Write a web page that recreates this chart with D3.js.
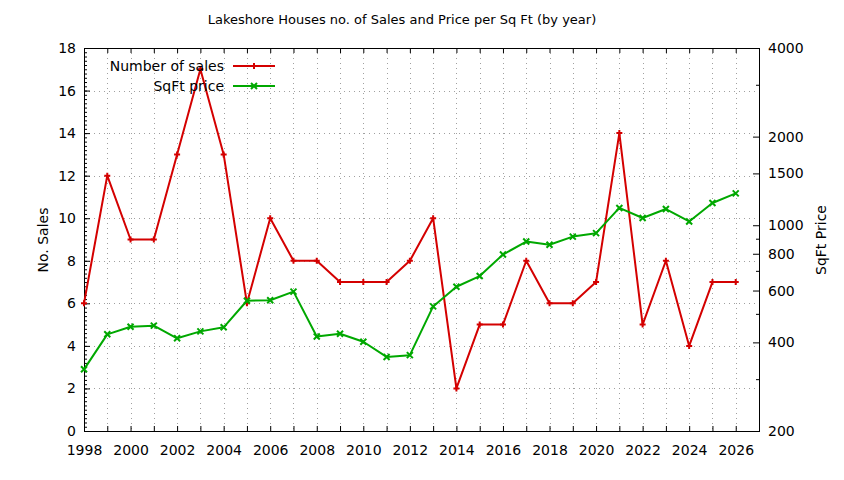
<!DOCTYPE html>
<html>
<head>
<meta charset="utf-8">
<script src="https://cdn.jsdelivr.net/npm/d3@7"></script>
<style>
  body { margin: 0; background: #fff; }
  svg text { font-family: "DejaVu Sans", sans-serif; fill: #000; }
</style>
</head>
<body>
<div class="chart"></div>
<script>
var years = d3.range(1998, 2027);
var sales = [6, 12, 9, 9, 13, 17, 13, 6, 10, 8, 8, 7, 7, 7, 8, 10, 2, 5, 5, 8, 6, 6, 7, 14, 5, 8, 4, 7, 7];
var sqftPrice = [324, 426, 452, 456, 413, 436, 450, 554, 556, 595, 419, 428, 402, 357, 362, 530, 618, 672, 795, 880, 858, 915, 940, 1145, 1058, 1135, 1030, 1190, 1283];
var leftTicks = [0, 2, 4, 6, 8, 10, 12, 14, 16, 18];
var rightTicks = [200, 400, 600, 800, 1000, 1500, 2000, 4000];
var rightMinor = [300, 500, 700, 900, 3000];
var yearLabels = d3.range(1998, 2027, 2);

draw();

function draw() {
    var width = 844, height = 480;
    var m = { left: 84, right: 759, top: 48, bottom: 431 };

    var svg = d3.select('.chart')
        .append('svg')
        .attr('width', width)
        .attr('height', height);

    var x = d3.scaleLinear().domain([1998, 2027]).range([m.left, m.right]);
    var y = d3.scaleLinear().domain([0, 18]).range([m.bottom, m.top]);
    var y2 = d3.scaleLog().domain([200, 4000]).range([m.bottom, m.top]);

    // grid
    var grid = svg.append('g')
        .attr('stroke', '#a0a0a0')
        .attr('stroke-width', 1)
        .attr('stroke-dasharray', '1,4');

    grid.selectAll('.gx')
        .data(years.slice(1))
        .enter()
        .append('line')
        .attr('x1', function (d) { return Math.round(x(d)) + 0.5; })
        .attr('x2', function (d) { return Math.round(x(d)) + 0.5; })
        .attr('y1', m.top)
        .attr('y2', m.bottom);

    grid.selectAll('.gy')
        .data(leftTicks.slice(1, -1))
        .enter()
        .append('line')
        .attr('x1', m.left)
        .attr('x2', m.right)
        .attr('y1', function (d) { return Math.round(y(d)) + 0.5; })
        .attr('y2', function (d) { return Math.round(y(d)) + 0.5; });

    // axes, ticks point inward like gnuplot
    function styleAxis(g) {
        g.select('.domain').remove();
        g.selectAll('line').attr('stroke', '#000');
        g.selectAll('text')
            .style('font-family', '"DejaVu Sans", sans-serif')
            .style('font-size', '14px')
            .attr('fill', '#000');
    }

    svg.append('g')
        .attr('transform', 'translate(0,' + m.bottom + ')')
        .call(d3.axisBottom(x)
            .tickValues(years)
            .tickSizeInner(-5)
            .tickSizeOuter(0)
            .tickPadding(14)
            .tickFormat(function (d) { return yearLabels.indexOf(d) >= 0 ? d : ''; }))
        .call(styleAxis);

    svg.append('g')
        .attr('transform', 'translate(0,' + m.top + ')')
        .call(d3.axisTop(x)
            .tickValues(years)
            .tickSizeInner(-5)
            .tickSizeOuter(0)
            .tickFormat(''))
        .call(styleAxis);

    svg.append('g')
        .attr('transform', 'translate(' + m.left + ',0)')
        .call(d3.axisLeft(y)
            .tickValues(d3.range(0, 90).map(function (i) { return i * 0.2; }))
            .tickSizeInner(-3)
            .tickSizeOuter(0)
            .tickFormat(''))
        .call(styleAxis);

    svg.append('g')
        .attr('transform', 'translate(' + m.left + ',0)')
        .call(d3.axisLeft(y)
            .tickValues(leftTicks)
            .tickSizeInner(-6)
            .tickSizeOuter(0)
            .tickPadding(8))
        .call(styleAxis);

    svg.append('g')
        .attr('transform', 'translate(' + m.right + ',0)')
        .call(d3.axisRight(y2)
            .tickValues(rightMinor)
            .tickSizeInner(-3)
            .tickSizeOuter(0)
            .tickFormat(''))
        .call(styleAxis);

    svg.append('g')
        .attr('transform', 'translate(' + m.right + ',0)')
        .call(d3.axisRight(y2)
            .tickValues(rightTicks)
            .tickSizeInner(-6)
            .tickSizeOuter(0)
            .tickPadding(9)
            .tickFormat(d3.format('d')))
        .call(styleAxis);

    // border
    svg.append('rect')
        .attr('x', m.left + 0.5)
        .attr('y', m.top + 0.5)
        .attr('width', m.right - m.left)
        .attr('height', m.bottom - m.top)
        .attr('fill', 'none')
        .attr('stroke', '#000');

    // series
    var series = [
        { label: 'Number of sales', color: '#d40000', values: sales, scale: y, mark: 'plus' },
        { label: 'SqFt price', color: '#00a800', values: sqftPrice, scale: y2, mark: 'cross' }
    ];

    function markPath(type, cx, cy) {
        var s = 3;
        if (type === 'plus') {
            return 'M' + (cx - s) + ',' + cy + 'H' + (cx + s) + 'M' + cx + ',' + (cy - s) + 'V' + (cy + s);
        }
        return 'M' + (cx - s) + ',' + (cy - s) + 'L' + (cx + s) + ',' + (cy + s) +
            'M' + (cx - s) + ',' + (cy + s) + 'L' + (cx + s) + ',' + (cy - s);
    }

    series.forEach(function (s) {
        var line = d3.line()
            .x(function (d, i) { return x(years[i]); })
            .y(function (d) { return s.scale(d); });

        svg.append('path')
            .datum(s.values)
            .attr('d', line)
            .attr('fill', 'none')
            .attr('stroke', s.color)
            .attr('stroke-width', 2)
            .attr('stroke-linejoin', 'round');

        svg.append('g')
            .selectAll('path')
            .data(s.values)
            .enter()
            .append('path')
            .attr('d', function (d, i) { return markPath(s.mark, x(years[i]), s.scale(d)); })
            .attr('stroke', s.color)
            .attr('stroke-width', 2)
            .attr('fill', 'none');
    });

    // legend
    var legend = svg.append('g');
    series.forEach(function (s, i) {
        var ly = 66 + i * 20;
        legend.append('text')
            .attr('x', 224)
            .attr('y', ly)
            .attr('dy', '0.35em')
            .attr('text-anchor', 'end')
            .style('font-size', '14px')
            .text(s.label);
        legend.append('line')
            .attr('x1', 233)
            .attr('x2', 275)
            .attr('y1', ly)
            .attr('y2', ly)
            .attr('stroke', s.color)
            .attr('stroke-width', 2);
        legend.append('path')
            .attr('d', markPath(s.mark, 254, ly))
            .attr('stroke', s.color)
            .attr('stroke-width', 2);
    });

    // titles
    svg.append('text')
        .attr('x', 402)
        .attr('y', 24)
        .attr('text-anchor', 'middle')
        .style('font-size', '13px')
        .text('Lakeshore Houses no. of Sales and Price per Sq Ft (by year)');

    svg.append('text')
        .attr('transform', 'translate(48,240) rotate(-90)')
        .attr('text-anchor', 'middle')
        .style('font-size', '14px')
        .text('No. Sales');

    svg.append('text')
        .attr('transform', 'translate(826,240) rotate(-90)')
        .attr('text-anchor', 'middle')
        .style('font-size', '14px')
        .text('SqFt Price');
}
</script>
</body>
</html>
